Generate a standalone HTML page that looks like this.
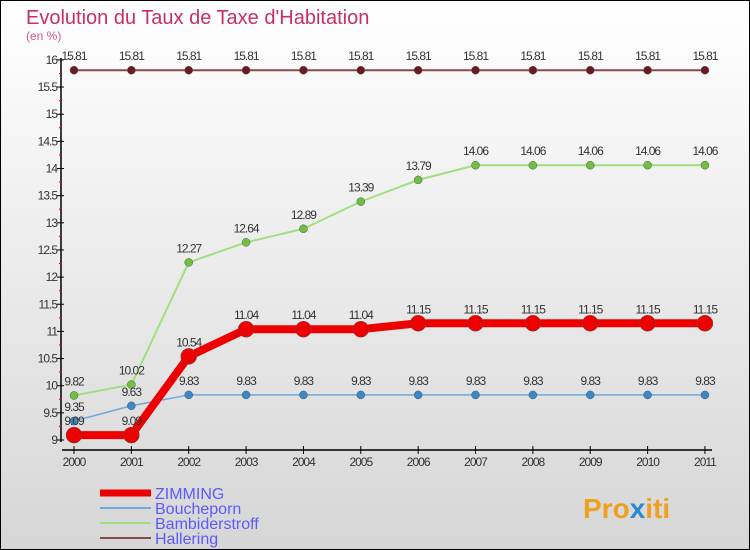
<!DOCTYPE html>
<html><head><meta charset="utf-8"><style>
body{margin:0}
#c{width:750px;height:550px;position:relative;box-sizing:border-box;border:1px solid #000;background:linear-gradient(#ffffff,#d6d6d6);font-family:"Liberation Sans",sans-serif;overflow:hidden}
</style></head><body>
<div id="c">
<svg id="s" width="750" height="550" style="position:absolute;left:-1px;top:-1px">
<text x="26" y="24" font-size="20" fill="#c8305f">Evolution du Taux de Taxe d'Habitation</text>
<text x="26" y="40" font-size="12" fill="#d05a80">(en %)</text>
<g id="axes"></g><g id="series"></g><g id="legend"></g>
<text x="583" y="518" font-size="28" font-weight="bold" fill="#f0a020">Pro<tspan fill="#2a8ad0">x</tspan>iti</text>
</svg>
</div>
<script>
const years=[2000,2001,2002,2003,2004,2005,2006,2007,2008,2009,2010,2011];
const zimming=[9.09,9.09,10.54,11.04,11.04,11.04,11.15,11.15,11.15,11.15,11.15,11.15];
const boucheporn=[9.35,9.63,9.83,9.83,9.83,9.83,9.83,9.83,9.83,9.83,9.83,9.83];
const bambiderstroff=[9.82,10.02,12.27,12.64,12.89,13.39,13.79,14.06,14.06,14.06,14.06,14.06];
const hallering=[15.81,15.81,15.81,15.81,15.81,15.81,15.81,15.81,15.81,15.81,15.81,15.81];
const yTicks=[9,9.5,10,10.5,11,11.5,12,12.5,13,13.5,14,14.5,15,15.5,16];
const yTickLabels=["9","9.5","10","10.5","11","11.5","12","12.5","13","13.5","14","14.5","15","15.5","16"];
const seriesNames=["ZIMMING","Boucheporn","Bambiderstroff","Hallering"];
const NS="http://www.w3.org/2000/svg";
const xs=i=>74+i*57.36, ys=v=>440-(v-9)*54.3;
function mk(p,tag,a){const e=document.createElementNS(NS,tag);for(const k in a)e.setAttribute(k,a[k]);p.appendChild(e);return e;}
const ax=document.getElementById('axes');
let e=mk(ax,'line',{x1:61,y1:58,x2:61,y2:442,stroke:'#000','stroke-width':1.5});


e=mk(ax,'line',{x1:62,y1:450,x2:712,y2:450,stroke:'#000','stroke-width':1.5});


yTicks.forEach((v,i)=>{
 mk(ax,'line',{x1:57,x2:64,y1:ys(v),y2:ys(v),stroke:'#000'});
 if(i<yTicks.length-1)mk(ax,'line',{x1:59,x2:62,y1:ys(v+0.25),y2:ys(v+0.25),stroke:'#e00'});
 const t=mk(ax,'text',{x:57,y:ys(v)+4,'font-size':12,'text-anchor':'end',fill:'#333','letter-spacing':'-1'});
 t.textContent=yTickLabels[i];
 
 
});
years.forEach((y,i)=>{
 mk(ax,'line',{x1:xs(i),x2:xs(i),y1:446,y2:454,stroke:'#000'});
 const t=mk(ax,'text',{x:xs(i),y:466,'font-size':12,'text-anchor':'middle',fill:'#333','letter-spacing':'-1'});
 t.textContent=y;
 
 
});
const sg=document.getElementById('series');
const defs=[[hallering,'#8a4a4a','#6a1a20',2,4,'hallering'],[bambiderstroff,'#a0e080','#70c040',2,4,'bambiderstroff'],[boucheporn,'#70a8d8','#3a88c8',1.5,4,'boucheporn'],[zimming,'#ee0000','#ee0000',8,8,'zimming']];
defs.forEach(([d,lc,pc,w,r,n])=>{
 const g=mk(sg,'g',{});
 
 
 const l=mk(g,'polyline',{points:d.map((v,i)=>xs(i)+','+ys(v)).join(' '),fill:'none',stroke:lc,'stroke-width':w,'stroke-linejoin':'round'});
 
 
 d.forEach((v,i)=>{
  const c=mk(g,'circle',{cx:xs(i),cy:ys(v),r:r,fill:pc,stroke:'#555','stroke-width':0.5});
  
  
  const t=mk(g,'text',{x:xs(i),y:ys(v)-10,'font-size':12,'text-anchor':'middle',fill:'#333','letter-spacing':'-1'});
  t.textContent=String(v);
  
  
 });
});
const lg=document.getElementById('legend');
const lcs=['#ee0000','#70a8d8','#a0e080','#8a4a4a'],lws=[7,2,2,2];
seriesNames.forEach((s,i)=>{
 const y=493+i*15;
 const l=mk(lg,'line',{x1:100,x2:151,y1:y,y2:y,stroke:lcs[i],'stroke-width':lws[i]});
 
 
 const t=mk(lg,'text',{x:155,y:y+6,'font-size':16,fill:'#5a5aff'});
 t.textContent=s;
 
 
});
</script>
</body></html>
